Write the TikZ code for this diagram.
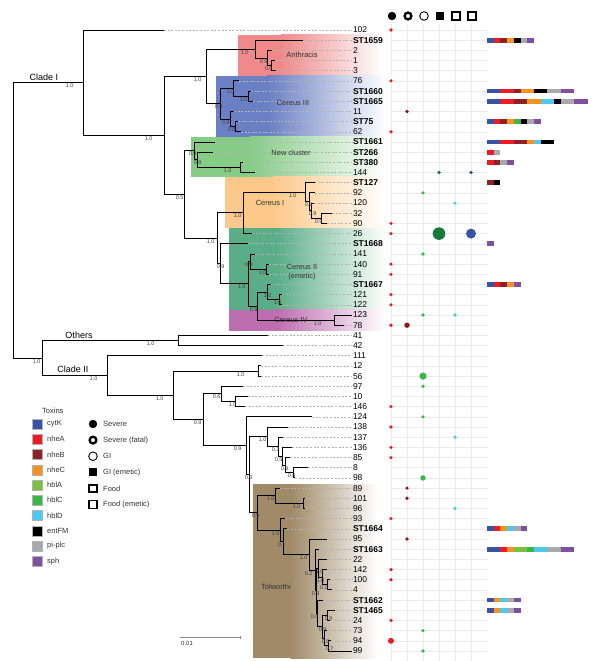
\documentclass[tikz,border=0pt]{standalone}
\usepackage{fontspec}
\setmainfont{Liberation Sans}
\usepackage{xcolor}
\usetikzlibrary{calc}

\definecolor{cytK}{HTML}{3953A4}
\definecolor{nheA}{HTML}{ED1C24}
\definecolor{nheB}{HTML}{8B2326}
\definecolor{nheC}{HTML}{F7921E}
\definecolor{hblA}{HTML}{7AC143}
\definecolor{hblC}{HTML}{3AB54A}
\definecolor{hblD}{HTML}{4DC8F0}
\definecolor{entFM}{HTML}{000000}
\definecolor{piplc}{HTML}{A7A9AC}
\definecolor{sph}{HTML}{7F4FA0}
\definecolor{dot1}{HTML}{ED1C24}
\definecolor{dot2}{HTML}{8B1A1A}
\definecolor{dot3}{HTML}{3AB54A}
\definecolor{dot4}{HTML}{167A3A}
\definecolor{dot5}{HTML}{4DC8F0}
\definecolor{dot6}{HTML}{3953A4}
\definecolor{anthr}{HTML}{F08A8A}
\definecolor{cerIII}{HTML}{6A7FC4}
\definecolor{newcl}{HTML}{86CB86}
\definecolor{cerI}{HTML}{FDC98B}
\definecolor{cerII}{HTML}{5AAD86}
\definecolor{cerIV}{HTML}{BD6DB0}
\definecolor{tolw}{HTML}{A08A68}

\newcommand\rowy[1]{30+10.18*(#1-1)}
\newcommand\clade[6]{%
  \coordinate (tmp) at ($(#3)!.5!(#4)$);
  \coordinate (#1) at (#2,0 |- tmp);
  \draw[branch] (#1) |- (#3) (#1) |- (#4);
  \node[support, xshift=#6pt] (#1-s) at (#1) {#5};}
\newcommand\groupbox[5]{%
  \fill[#1] (#2,#3) rectangle ({#2+0.3*(#5-#2)},#4);
  \shade[left color=#1, right color=white] ({#2+0.3*(#5-#2)},#3) rectangle (#5,#4);}

\tikzset{
  branch/.style={line width=0.9pt, black},
  leafline/.style={draw=black!30, line width=0.6pt, dash pattern=on 2pt off 1.6pt},
  isolate/.style={anchor=west, inner sep=0.8pt, font=\fontsize{8.5}{9}\selectfont},
  stlab/.style={isolate, font=\fontsize{8.5}{9}\selectfont\bfseries},
  support/.style={anchor=north east, inner sep=0.4pt, yshift=-0.6pt, text=black!75, font=\fontsize{5.5}{6}\selectfont},
  gridline/.style={draw=black!8, line width=0.5pt},
  legend/.style={anchor=west, inner sep=0pt, text=black!80, font=\fontsize{7.5}{8}\selectfont},
  cladename/.style={anchor=south, inner sep=0.5pt, font=\fontsize{9}{10}\selectfont},
  groupname/.style={align=center, inner sep=0pt, text=black!80, font=\fontsize{7.5}{9}\selectfont},
  severe/.pic={\fill (0,0) circle (4.2pt);},
  fatal/.pic={\draw[line width=2.3pt] (0,0) circle (3.4pt);},
  gi/.pic={\draw[line width=0.9pt] (0,0) circle (4.3pt);},
  giem/.pic={\fill (-4,-4) rectangle (4,4);},
  food/.pic={\draw[line width=2pt] (-3.7,-3.7) rectangle (3.7,3.7);},
  foodem/.pic={\draw[line width=1.2pt] (-4,-4) rectangle (4,4);}
}

\begin{document}
\begin{tikzpicture}[x=1pt, y=-1pt]
\useasboundingbox (0,0) rectangle (600,661);

\groupbox{anthr}{238}{35}{75.5}{382}
\groupbox{cerIII}{216}{75.5}{136.5}{386}
\groupbox{newcl}{191}{136.5}{176.5}{386}
\groupbox{cerI}{225}{176.5}{228}{386}
\groupbox{cerII}{229}{228}{309.5}{386}
\groupbox{cerIV}{229}{309.5}{330.5}{386}
\groupbox{tolw}{253}{484}{658}{378}

\foreach \c in {0,...,5} \draw[gridline] (391+16*\c, 24) -- (391+16*\c, 661);
\foreach \i in {1,...,62} \draw[gridline] (391, {\rowy{\i}}) -- (487, {\rowy{\i}});

\foreach \lab/\tx/\sty [count=\i] in {102/164/isolate, ST1659/303/stlab, 2/272/isolate, 1/275/isolate, 3/276/isolate,
  76/239/isolate, ST1660/251/stlab, ST1665/253/stlab, 11/234/isolate, ST75/238/stlab, 62/241/isolate,
  ST1661/215/stlab, ST266/213/stlab, ST380/243/stlab, 144/255/isolate,
  ST127/315/stlab, 92/315/isolate, 120/314/isolate, 32/332/isolate, 90/327/isolate, 26/252/isolate,
  ST1668/248/stlab, 141/255/isolate, 140/269/isolate, 91/269/isolate, ST1667/271/stlab, 121/282/isolate, 122/282/isolate,
  123/352/isolate, 78/344/isolate, 41/268/isolate, 42/283/isolate, 111/262/isolate, 12/261/isolate, 56/261/isolate,
  97/243/isolate, 10/248/isolate, 146/245/isolate, 124/312/isolate, 138/288/isolate, 137/283/isolate, 136/292/isolate,
  85/290/isolate, 8/308/isolate, 98/295/isolate, 89/280/isolate, 101/305/isolate, 96/305/isolate, 93/285/isolate,
  ST1664/287/stlab, 95/327/isolate, ST1663/319/stlab, 22/327/isolate, 142/327/isolate, 100/330/isolate, 4/332/isolate,
  ST1662/323/stlab, ST1465/335/stlab, 24/330/isolate, 73/327/isolate, 94/331/isolate, 99/352/isolate}
{
  \coordinate (t\lab) at (\tx, {\rowy{\i}});
  \node[\sty] (n\lab) at (352, {\rowy{\i}}) {\lab};
  \draw[leafline] (t\lab) -- (n\lab.west);
}

\clade{an3}{271}{t1}{t3}{0.9}{2}
\clade{an2}{267}{t2}{an3}{0.9}{1}
\clade{an}{255}{tST1659}{an2}{1.0}{-6}
\clade{u3b}{248}{tST1660}{tST1665}{1.0}{0}
\clade{u3}{233}{t76}{u3b}{1.0}{2}
\clade{l3b}{235}{tST75}{t62}{0.8}{1}
\clade{l3}{230}{t11}{l3b}{0.9}{0}
\clade{c3}{220}{u3}{l3}{0.9}{3}
\clade{cc}{206}{an}{c3}{1.0}{-4}
\clade{nc3}{240}{tST380}{t144}{1.0}{-8}
\clade{nc2}{197}{tST266}{nc3}{0.9}{5}
\clade{nc}{194}{tST1661}{nc2}{0.9}{3}
\clade{cid}{321}{t32}{t90}{0.9}{2}
\clade{cic}{311}{t120}{cid}{0.9}{6}
\clade{cib}{309}{t92}{cic}{0.9}{4}
\clade{cia}{305}{tST127}{cib}{1.0}{-8}
\clade{ci}{243}{cia}{t26}{1.0}{-1}
\clade{h2}{266}{t140}{t91}{1.0}{1}
\clade{h}{250}{t141}{h2}{0.9}{3}
\clade{j2}{279}{t121}{t122}{1.0}{3}
\clade{j1}{267}{tST1667}{j2}{1.0}{5}
\clade{civ}{334}{t123}{t78}{1.0}{-12}
\clade{j}{257}{j1}{civ}{0.9}{1}
\clade{k}{248}{h}{j}{1.0}{-2}
\clade{f}{220}{tST1668}{k}{0.9}{5}
\clade{e}{217}{ci}{f}{1.0}{-2}
\clade{d}{184}{nc}{e}{0.5}{0}
\clade{b}{164}{cc}{d}{1.0}{-11}
\clade{a}{83}{t102}{b}{1.0}{-9}

\clade{oth}{178}{t41}{t42}{1.0}{-23}
\clade{p2}{258}{t12}{t56}{1.0}{-13}
\clade{r2}{235}{t10}{t146}{1.0}{2}
\clade{r}{221}{t97}{r2}{0.6}{0}
\clade{m5}{293}{t8}{t98}{0.8}{3}
\clade{m4}{285}{t85}{m5}{0.9}{4}
\clade{m3}{282}{t136}{m4}{0.5}{1}
\clade{m2}{278}{t137}{m3}{0.7}{2}
\clade{m1}{267}{t138}{m2}{1.0}{0}
\clade{w2}{303}{t101}{t96}{1.0}{-2}
\clade{w}{275}{t89}{w2}{1.0}{0}
\clade{a3}{327}{t100}{t4}{0.1}{1}
\clade{a2}{322}{t142}{a3}{1.0}{3}
\clade{a1}{318}{t22}{a2}{1.0}{6}
\clade{b4}{328}{t94}{t99}{0.7}{6}
\clade{b3}{324}{t73}{b4}{0.8}{6}
\clade{b1b}{327}{tST1465}{t24}{0.9}{6}
\clade{b2}{322}{b1b}{b3}{0.9}{5}
\clade{b1}{317}{tST1662}{b2}{0.6}{2}
\clade{y3}{316}{a1}{b1}{0.9}{4}
\clade{y2}{315}{tST1663}{y3}{0.2}{-2}
\clade{yy}{309}{t95}{y2}{1.0}{-1}
\clade{x2}{283}{tST1664}{yy}{0.1}{3}
\clade{xx}{280}{t93}{x2}{1.0}{0}
\clade{v}{257}{w}{xx}{0.9}{3}
\clade{tt}{249}{m1}{v}{0.6}{4}
\clade{s}{246}{t124}{tt}{0.9}{-4}
\clade{q}{203}{r}{s}{0.9}{-1}
\clade{p}{173}{p2}{q}{1.0}{-9}
\clade{c2}{107}{t111}{p}{1.0}{-9}
\clade{o}{42}{oth}{c2}{1.0}{-1}
\clade{rt}{13}{a}{o}{}{0}

\node[cladename] (cladeI) at (44,81) {Clade I};
\node[cladename] (others) at (79,339) {Others};
\node[cladename] (cladeII) at (73,373) {Clade II};

\node[groupname] (anthracis) at (302,55) {Anthracis};
\node[groupname] (cereusIII) at (293,103) {Cereus III};
\node[groupname] (newcluster) at (291,153) {New cluster};
\node[groupname] (cereusI) at (270,203) {Cereus I};
\node[groupname] (cereusII) at (302,272) {Cereus II\\(emetic)};
\node[groupname] (cereusIV) at (291,320) {Cereus IV};
\node[groupname] (tolworthi) at (276,587) {Tolworthi};

\foreach \r/\c/\rad in {1/1/1.8, 6/1/1.8, 9/2/1.9, 11/1/1.8, 15/4/1.8, 15/6/1.8, 17/3/1.8, 18/5/1.8,
  20/1/1.8, 21/1/1.8, 21/4/6.3, 21/6/5, 23/3/1.8, 24/1/1.8, 25/1/1.8, 27/1/1.8, 28/1/1.8,
  29/3/1.8, 29/5/1.8, 30/1/1.8, 30/2/2.7, 35/3/3.6, 36/3/1.8, 38/1/1.8, 39/3/1.8, 40/1/1.8,
  41/5/1.8, 42/1/1.8, 43/1/1.8, 45/3/2.7, 46/2/1.8, 47/2/1.8, 48/5/1.8, 49/1/1.8, 51/2/1.8,
  54/1/1.8, 55/1/1.8, 59/1/1.8, 60/3/1.8, 61/1/3, 62/3/1.8}
  \fill[dot\c] ({391+16*(\c-1)}, {\rowy{\r}}) circle (\rad pt);

\foreach \r/\cols in {2/{cytK,nheA,nheB,nheC,entFM,piplc,sph},
  7/{cytK,cytK,nheA,nheA,nheB,nheC,nheC,entFM,entFM,piplc,piplc,sph,sph},
  8/{cytK,cytK,nheA,nheA,nheB,nheB,nheC,nheC,hblD,hblD,entFM,piplc,piplc,sph,sph},
  10/{cytK,nheA,nheB,nheC,hblC,entFM,piplc,sph},
  12/{cytK,cytK,nheA,nheA,nheB,nheB,nheC,hblD,entFM,entFM},
  13/{nheA,piplc}, 14/{nheA,nheB,piplc,sph}, 16/{nheB,entFM}, 22/{sph},
  26/{cytK,nheA,nheB,nheC,sph}, 50/{cytK,nheA,nheC,hblD,piplc,sph},
  52/{cytK,cytK,nheA,nheC,hblA,hblA,hblC,hblD,hblD,piplc,piplc,sph,sph},
  57/{cytK,nheC,hblD,piplc,sph}, 58/{cytK,nheC,hblD,piplc,sph}}
  \foreach \col [count=\u] in \cols
    \fill[\col] ({487+6.7*(\u-1)}, {\rowy{\r}-2.4}) rectangle +(6.75,4.8);

\foreach \s [count=\k] in {severe,fatal,gi,giem,food,foodem} {
  \pic at ({392+16*(\k-1)}, 16) {\s};
  \pic at (93, {424+16.1*(\k-1)}) {\s};
}
\foreach \txt [count=\k] in {Severe, {Severe (fatal)}, GI, {GI (emetic)}, Food, {Food (emetic)}}
  \node[legend] (sym\k) at (103, {424+16.1*(\k-1)}) {\txt};

\node[legend] (toxins) at (42,411) {Toxins};
\foreach \col/\txt [count=\k] in {cytK/cytK, nheA/nheA, nheB/nheB, nheC/nheC, hblA/hblA, hblC/hblC,
  hblD/hblD, entFM/entFM, piplc/pi-plc, sph/sph} {
  \fill[\col, draw=black!30, line width=0.4pt] (32, {424+15.25*(\k-1)-5}) rectangle +(10,10);
  \node[legend] (tox\k) at (47, {424+15.25*(\k-1)}) {\txt};
}

\draw[black!45, line width=0.6pt] (180,637) -- (240,637);
\draw[black!45, line width=0.5pt] (240,635.5) -- (240,638.5);
\node[anchor=north west, inner sep=0pt, text=black!80, font=\fontsize{6}{7}\selectfont] (scalebar) at (181,641) {0.01};
\end{tikzpicture}
\end{document}
